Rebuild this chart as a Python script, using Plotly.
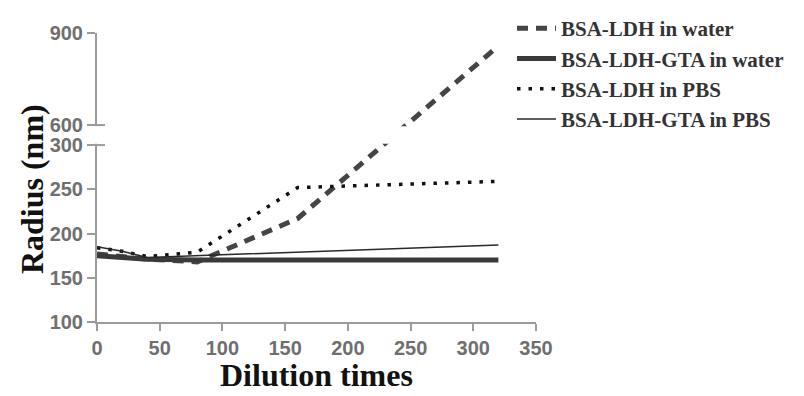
import plotly.graph_objects as go

# ---- data ----
dilution = [0, 20, 40, 80, 160, 320]
bsa_ldh_water = [177, 174, 171, 168, 217, 858]
bsa_ldh_gta_water = [175, 173, 171, 170, 170, 170]
bsa_ldh_pbs = [184, 180, 174, 179, 252, 259]
bsa_ldh_gta_pbs = [185, 180, 173, 175, 179, 187]

x_ticks = [0, 50, 100, 150, 200, 250, 300, 350]
y_ticks = [100, 150, 200, 250, 300, 600, 900]

# ---- broken y axis: 100-300 lower segment, 600-900 compressed upper segment ----
BREAK_LO, BREAK_HI = 300, 600
GAP = 22.6        # blank space between the segments (in lower-segment units)
RATIO = 0.347     # scale of upper segment relative to lower segment


def disp(v):
    return v if v <= BREAK_LO else BREAK_LO + GAP + (v - BREAK_HI) * RATIO


def tr(vals):
    return [disp(v) for v in vals]


fig = go.Figure()

fig.add_trace(go.Scatter(
    x=dilution, y=tr(bsa_ldh_water), mode="lines", name="BSA-LDH in water",
    line=dict(color="#454545", width=5, dash="11px,8px")))
fig.add_trace(go.Scatter(
    x=dilution, y=tr(bsa_ldh_gta_water), mode="lines", name="BSA-LDH-GTA in water",
    line=dict(color="#3a3a3a", width=5)))
fig.add_trace(go.Scatter(
    x=dilution, y=tr(bsa_ldh_pbs), mode="lines", name="BSA-LDH in PBS",
    line=dict(color="#111111", width=3.5, dash="3.5px,8px")))
fig.add_trace(go.Scatter(
    x=dilution, y=tr(bsa_ldh_gta_pbs), mode="lines", name="BSA-LDH-GTA in PBS",
    line=dict(color="#2a2a2a", width=1.5)))

axis_col = "#9c9c9c"
tick_font = dict(family="Liberation Sans, Arial", size=20, color="#6f6f6f", weight="bold")

fig.update_xaxes(
    range=[0, 350], tickvals=x_ticks, ticktext=[str(t) for t in x_ticks],
    showgrid=False, zeroline=False, showline=True, linecolor=axis_col, linewidth=2,
    ticks="outside", ticklen=7, tickwidth=2, tickcolor=axis_col, tickfont=tick_font,
    automargin=False)
fig.update_yaxes(
    range=[100, disp(900)], tickvals=tr(y_ticks), ticktext=[str(t) for t in y_ticks],
    showgrid=False, zeroline=False, showline=True, linecolor=axis_col, linewidth=2,
    ticks="outside", ticklen=8, tickwidth=2, tickcolor=axis_col, tickfont=tick_font,
    automargin=False)

# white band hiding the axis and lines inside the break
fig.add_shape(type="rect", xref="paper", yref="y", layer="above",
              x0=-0.03, x1=0.94, y0=BREAK_LO + 1.4, y1=BREAK_LO + GAP - 1.4,
              fillcolor="white", line=dict(width=0))
# small end caps of the broken axis segments (tick continues right of the axis)
for v in (BREAK_LO, BREAK_HI):
    fig.add_shape(type="line", xref="paper", yref="y", layer="above",
                  x0=0, x1=8 / 439, y0=disp(v), y1=disp(v),
                  line=dict(color=axis_col, width=2))

title_font = dict(family="Liberation Serif, Times New Roman", size=32, color="#111111", weight="bold")
fig.add_annotation(text="Dilution times", xref="paper", yref="paper", x=0.5, y=-0.185,
                   xanchor="center", yanchor="middle", showarrow=False, font=title_font)
fig.add_annotation(text="Radius (nm)", xref="paper", yref="paper", x=-0.148, y=0.46,
                   xanchor="center", yanchor="middle", showarrow=False, textangle=-90,
                   font=title_font)

# the page body adds an 8px offset, so the figure is 8px smaller than the window
W, H = 796, 388
fig.update_layout(
    width=W, height=H,
    margin=dict(l=89, r=W - 89 - 439, t=25, b=H - 25 - 289, autoexpand=False),
    paper_bgcolor="white", plot_bgcolor="white",
    showlegend=True,
    legend=dict(xref="container", yref="container", x=(517 - 8 - 5) / W, y=1 + 15 / H,
                xanchor="left", yanchor="top",
                font=dict(family="Liberation Serif, Times New Roman", size=21,
                          color="#333333", weight="bold"),
                bgcolor="rgba(0,0,0,0)", itemwidth=39, tracegroupgap=0),
)

fig.write_html("out.html")
